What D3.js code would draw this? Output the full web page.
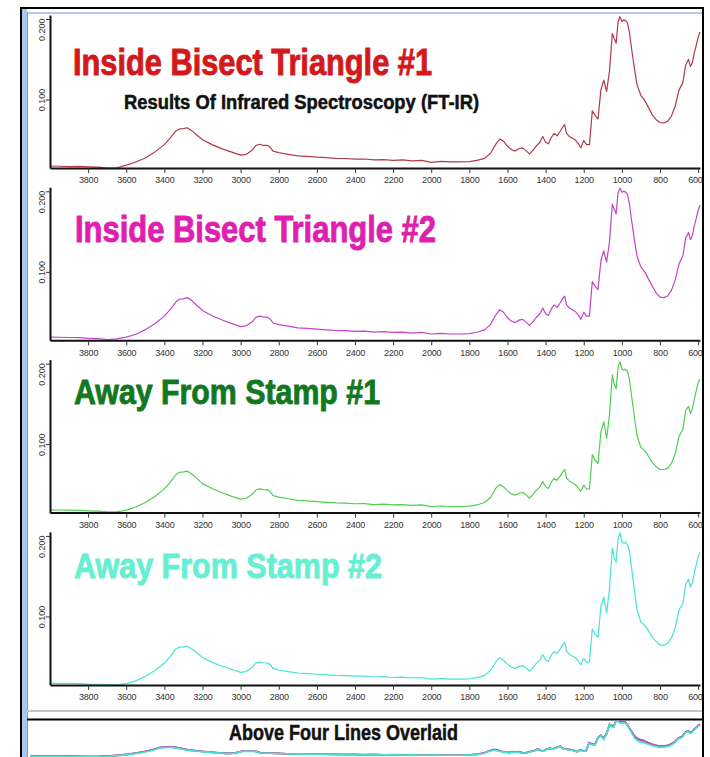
<!DOCTYPE html>
<html>
<head>
<meta charset="utf-8">
<script src="https://cdn.jsdelivr.net/npm/d3@7"></script>
<style>
  html, body { margin: 0; padding: 0; background: #fff; }
  svg { display: block; }
</style>
</head>
<body>
<svg id="chart" width="710" height="757"></svg>
<script>
// FT-IR absorbance spectra, wavenumber in cm-1 (high to low)
const wavenumbers = [
  4000, 3950, 3900, 3850, 3800, 3750, 3700, 3650, 3600, 3550,
  3500, 3450, 3400, 3370, 3340, 3320, 3300, 3280, 3260, 3230,
  3200, 3150, 3100, 3050, 3000, 2970, 2940, 2920, 2900, 2880,
  2860, 2845, 2830, 2800, 2750, 2700, 2650, 2600, 2550, 2500,
  2450, 2400, 2350, 2300, 2250, 2200, 2150, 2100, 2050, 2000,
  1950, 1900, 1850, 1800, 1760, 1720, 1690, 1660, 1640, 1620,
  1600, 1580, 1560, 1540, 1520, 1500, 1485, 1470, 1450, 1430,
  1415, 1400, 1385, 1370, 1355, 1340, 1325, 1310, 1300, 1290,
  1275, 1260, 1245, 1230, 1215, 1200, 1185, 1170, 1155, 1140,
  1125, 1110, 1095, 1080, 1065, 1050, 1040, 1030, 1020, 1010,
  1000, 990, 980, 970, 960, 950, 935, 920, 900, 880,
  860, 840, 820, 800, 780, 760, 740, 720, 700, 680,
  665, 650, 640, 630, 620, 610, 600, 590
];

const insideTriangle1 = [
  0.0175, 0.0172, 0.0168, 0.0170, 0.0165, 0.0160, 0.0150, 0.0152, 0.0185, 0.0225,
  0.0275, 0.0350, 0.0440, 0.0520, 0.0610, 0.0635, 0.0638, 0.0650, 0.0620, 0.0560,
  0.0500, 0.0440, 0.0390, 0.0350, 0.0310, 0.0320, 0.0370, 0.0430, 0.0445, 0.0430,
  0.0430, 0.0410, 0.0360, 0.0340, 0.0320, 0.0300, 0.0295, 0.0285, 0.0278, 0.0270,
  0.0268, 0.0260, 0.0262, 0.0250, 0.0255, 0.0245, 0.0250, 0.0238, 0.0245, 0.0220,
  0.0232, 0.0225, 0.0225, 0.0230, 0.0245, 0.0270, 0.0330, 0.0450, 0.0510, 0.0480,
  0.0420, 0.0380, 0.0360, 0.0390, 0.0400, 0.0360, 0.0325, 0.0360, 0.0420, 0.0470,
  0.0540, 0.0470, 0.0450, 0.0530, 0.0580, 0.0550, 0.0600, 0.0660, 0.0690, 0.0580,
  0.0540, 0.0520, 0.0500, 0.0460, 0.0400, 0.0490, 0.0440, 0.0440, 0.0860, 0.0800,
  0.0760, 0.1120, 0.1240, 0.1100, 0.1350, 0.1820, 0.1760, 0.1700, 0.1960, 0.2030,
  0.1970, 0.1990, 0.1980, 0.1950, 0.1830, 0.1650, 0.1400, 0.1180, 0.1050, 0.0990,
  0.0900, 0.0810, 0.0750, 0.0715, 0.0710, 0.0730, 0.0795, 0.0920, 0.1120, 0.1210,
  0.1430, 0.1500, 0.1410, 0.1460, 0.1580, 0.1670, 0.1770, 0.1840
];

const insideTriangle2 = [
  0.0190, 0.0188, 0.0185, 0.0182, 0.0175, 0.0170, 0.0160, 0.0168, 0.0190, 0.0225,
  0.0280, 0.0355, 0.0450, 0.0530, 0.0625, 0.0660, 0.0665, 0.0680, 0.0650, 0.0585,
  0.0520, 0.0455, 0.0405, 0.0360, 0.0320, 0.0330, 0.0380, 0.0435, 0.0450, 0.0440,
  0.0435, 0.0415, 0.0365, 0.0345, 0.0325, 0.0305, 0.0298, 0.0288, 0.0280, 0.0272,
  0.0270, 0.0262, 0.0265, 0.0252, 0.0258, 0.0248, 0.0252, 0.0240, 0.0248, 0.0228,
  0.0235, 0.0228, 0.0228, 0.0232, 0.0250, 0.0280, 0.0345, 0.0470, 0.0530, 0.0495,
  0.0430, 0.0390, 0.0370, 0.0400, 0.0410, 0.0370, 0.0335, 0.0370, 0.0430, 0.0480,
  0.0550, 0.0480, 0.0460, 0.0540, 0.0590, 0.0560, 0.0610, 0.0670, 0.0700, 0.0590,
  0.0550, 0.0530, 0.0510, 0.0470, 0.0410, 0.0500, 0.0450, 0.0450, 0.0880, 0.0820,
  0.0780, 0.1140, 0.1260, 0.1120, 0.1370, 0.1840, 0.1780, 0.1720, 0.1980, 0.2040,
  0.1990, 0.2000, 0.1990, 0.1960, 0.1840, 0.1660, 0.1410, 0.1190, 0.1060, 0.1000,
  0.0910, 0.0820, 0.0740, 0.0685, 0.0680, 0.0700, 0.0770, 0.0900, 0.1100, 0.1200,
  0.1420, 0.1490, 0.1400, 0.1450, 0.1570, 0.1660, 0.1760, 0.1830
];

const awayFromStamp1 = [
  0.0185, 0.0182, 0.0180, 0.0178, 0.0172, 0.0168, 0.0160, 0.0158, 0.0180, 0.0220,
  0.0275, 0.0350, 0.0445, 0.0525, 0.0620, 0.0650, 0.0655, 0.0665, 0.0635, 0.0575,
  0.0510, 0.0450, 0.0400, 0.0355, 0.0318, 0.0328, 0.0375, 0.0430, 0.0445, 0.0435,
  0.0432, 0.0412, 0.0362, 0.0342, 0.0322, 0.0302, 0.0296, 0.0286, 0.0278, 0.0270,
  0.0268, 0.0260, 0.0262, 0.0250, 0.0255, 0.0245, 0.0250, 0.0240, 0.0245, 0.0225,
  0.0232, 0.0226, 0.0226, 0.0230, 0.0245, 0.0275, 0.0335, 0.0455, 0.0500, 0.0470,
  0.0420, 0.0385, 0.0365, 0.0390, 0.0400, 0.0365, 0.0330, 0.0365, 0.0425, 0.0470,
  0.0535, 0.0470, 0.0450, 0.0530, 0.0575, 0.0550, 0.0600, 0.0655, 0.0685, 0.0580,
  0.0540, 0.0520, 0.0500, 0.0460, 0.0415, 0.0490, 0.0440, 0.0445, 0.0870, 0.0800,
  0.0760, 0.1150, 0.1280, 0.1070, 0.1360, 0.1860, 0.1740, 0.1690, 0.1950, 0.2025,
  0.1930, 0.1920, 0.1930, 0.1900, 0.1800, 0.1620, 0.1350, 0.1100, 0.0960, 0.0920,
  0.0850, 0.0770, 0.0720, 0.0685, 0.0685, 0.0700, 0.0760, 0.0880, 0.1100, 0.1180,
  0.1420, 0.1470, 0.1380, 0.1440, 0.1560, 0.1660, 0.1760, 0.1810
];

const awayFromStamp2 = [
  0.0172, 0.0170, 0.0168, 0.0165, 0.0160, 0.0158, 0.0155, 0.0152, 0.0165, 0.0200,
  0.0255, 0.0330, 0.0420, 0.0500, 0.0595, 0.0620, 0.0622, 0.0630, 0.0605, 0.0550,
  0.0490, 0.0430, 0.0385, 0.0345, 0.0305, 0.0315, 0.0365, 0.0420, 0.0435, 0.0425,
  0.0422, 0.0402, 0.0355, 0.0335, 0.0315, 0.0298, 0.0290, 0.0282, 0.0275, 0.0268,
  0.0265, 0.0258, 0.0260, 0.0248, 0.0252, 0.0242, 0.0246, 0.0236, 0.0242, 0.0222,
  0.0228, 0.0222, 0.0222, 0.0226, 0.0240, 0.0268, 0.0325, 0.0440, 0.0485, 0.0455,
  0.0405, 0.0372, 0.0355, 0.0380, 0.0390, 0.0355, 0.0320, 0.0355, 0.0415, 0.0460,
  0.0525, 0.0460, 0.0440, 0.0520, 0.0565, 0.0540, 0.0590, 0.0650, 0.0680, 0.0570,
  0.0530, 0.0510, 0.0490, 0.0450, 0.0400, 0.0480, 0.0430, 0.0435, 0.0845, 0.0780,
  0.0740, 0.1120, 0.1240, 0.1040, 0.1340, 0.1850, 0.1715, 0.1680, 0.1960, 0.2040,
  0.1930, 0.1910, 0.1920, 0.1890, 0.1810, 0.1620, 0.1340, 0.1080, 0.0930, 0.0890,
  0.0820, 0.0740, 0.0690, 0.0645, 0.0645, 0.0665, 0.0730, 0.0860, 0.1080, 0.1160,
  0.1400, 0.1465, 0.1365, 0.1420, 0.1540, 0.1640, 0.1740, 0.1790
];

const sampleNames = [
  "Inside Bisect Triangle #1",
  "Inside Bisect Triangle #2",
  "Away From Stamp #1",
  "Away From Stamp #2"
];
const sampleSeries = [insideTriangle1, insideTriangle2, awayFromStamp1, awayFromStamp2];
const subtitle = "Results Of Infrared Spectroscopy (FT-IR)";
const overlayTitle = "Above Four Lines Overlaid";
const xTickValues = [3800, 3600, 3400, 3200, 3000, 2800, 2600, 2400, 2200, 2000, 1800, 1600, 1400, 1200, 1000, 800, 600];
const yTickValues = [0.100, 0.200];

// ---- styling ----
const lineColors  = ["#b23a4c", "#c344c6", "#4fcf52", "#45e3d6"];
const titleColors = ["#d3191b", "#df1fae", "#12781f", "#66efd2"];
// title placement: [x, baseline, width, font-size]
const titleBoxes = [[73, 75, 359, 36], [75, 242, 361, 36], [74, 404, 306, 35], [74, 578, 308, 35]];

const W = 710, H = 757;
const svg = d3.select("#chart");
const titleFont = "'Liberation Sans', Arial, 'DejaVu Sans', sans-serif";
const tickFont = "'Liberation Sans Narrow', 'Liberation Sans', Arial, sans-serif";

svg.append("rect").attr("width", W).attr("height", H).attr("fill", "#fff");

// window frame
svg.append("rect").attr("x", 22).attr("y", 9).attr("width", 5).attr("height", H).attr("fill", "#aac6ec");
svg.append("rect").attr("x", 27).attr("y", 12).attr("width", 676).attr("height", 2).attr("fill", "#b3cbec");
svg.append("line").attr("x1", 27.5).attr("x2", 27.5).attr("y1", 12).attr("y2", H)
  .attr("stroke", "#9a9a9a").attr("stroke-width", 1);

const xScale = d3.scaleLinear().domain([4000, 590]).range([50, 700]);
const line = (y) => d3.line().x((d, i) => xScale(wavenumbers[i])).y(d => y(d));

sampleSeries.forEach((series, i) => {
  const top = 15 + i * 172.3;
  const bottom = top + 153;
  const yScale = d3.scaleLinear().domain([0.015, 0.205]).range([bottom, top]);
  const g = svg.append("g");

  const [tx, ty, tw, fs] = titleBoxes[i];
  g.append("text")
    .attr("x", tx).attr("y", ty)
    .attr("textLength", tw).attr("lengthAdjust", "spacingAndGlyphs")
    .attr("font-family", titleFont).attr("font-weight", "bold").attr("font-size", fs)
    .attr("fill", titleColors[i]).attr("stroke", titleColors[i]).attr("stroke-width", 0.9)
    .text(sampleNames[i]);

  if (i === 0) {
    g.append("text")
      .attr("x", 124).attr("y", 109)
      .attr("textLength", 355).attr("lengthAdjust", "spacingAndGlyphs")
      .attr("font-family", titleFont).attr("font-weight", "bold").attr("font-size", 19.5)
      .attr("fill", "#111").attr("stroke", "#111").attr("stroke-width", 0.5)
      .text(subtitle);
  }

  const clipId = "clip" + i;
  g.append("clipPath").attr("id", clipId)
    .append("rect").attr("x", 50).attr("y", top - 2).attr("width", 652).attr("height", bottom - top + 2);

  g.append("path")
    .datum(series)
    .attr("clip-path", `url(#${clipId})`)
    .attr("fill", "none")
    .attr("stroke", lineColors[i])
    .attr("stroke-width", 1.2)
    .attr("stroke-linejoin", "round")
    .attr("d", line(yScale));

  // x axis
  const xAxis = g.append("g")
    .attr("transform", `translate(0,${bottom})`)
    .call(d3.axisBottom(xScale).tickValues(xTickValues).tickFormat(d3.format("d"))
      .tickSize(5).tickSizeOuter(0).tickPadding(4));
  xAxis.select(".domain").attr("stroke", "#111").attr("stroke-width", 2);
  xAxis.selectAll(".tick line").attr("stroke", "#333");
  xAxis.selectAll(".tick text").attr("font-family", tickFont).attr("font-size", 9)
    .attr("fill", "#333").attr("letter-spacing", "-0.2");
  // keep the last label inside the frame
  xAxis.selectAll(".tick").filter(d => d === 600).select("text")
    .attr("text-anchor", "end").attr("x", 4);

  // y axis
  const yAxis = g.append("g")
    .attr("transform", "translate(50,0)")
    .call(d3.axisLeft(yScale).tickValues(yTickValues).tickFormat(d3.format(".3f"))
      .tickSize(4).tickSizeOuter(0));
  yAxis.select(".domain").attr("stroke", "#111").attr("stroke-width", 2);
  yAxis.selectAll(".tick line").attr("stroke", "#333");
  yAxis.selectAll("text")
    .attr("font-family", tickFont).attr("font-size", 9).attr("fill", "#333")
    .attr("transform", "rotate(-90)")
    .attr("dy", 0)
    .attr("y", -5)
    .attr("x", d => d >= 0.2 ? 1 : 0)
    .attr("text-anchor", d => d >= 0.2 ? "end" : "middle");
});

// overlay strip at the bottom
svg.append("rect").attr("x", 27).attr("y", 710).attr("width", 676).attr("height", 2).attr("fill", "#c4c4c4");
svg.append("line").attr("x1", 27).attr("x2", 704).attr("y1", 719.5).attr("y2", 719.5)
  .attr("stroke", "#000").attr("stroke-width", 2);

svg.append("text")
  .attr("x", 229).attr("y", 740)
  .attr("textLength", 229).attr("lengthAdjust", "spacingAndGlyphs")
  .attr("font-family", titleFont).attr("font-weight", "bold").attr("font-size", 22)
  .attr("fill", "#111").attr("stroke", "#111").attr("stroke-width", 0.5)
  .text(overlayTitle);

const xOverlay = d3.scaleLinear().domain([4000, 590]).range([30, 700]);
const yOverlay = d3.scaleLinear().domain([0.013, 0.206]).range([757, 720]);
svg.append("clipPath").attr("id", "clipOverlay")
  .append("rect").attr("x", 28).attr("y", 720.5).attr("width", 675).attr("height", 40);
const overlayOrder = [0, 2, 1, 3];
overlayOrder.forEach(k => {
  svg.append("path")
    .datum(sampleSeries[k])
    .attr("clip-path", "url(#clipOverlay)")
    .attr("fill", "none")
    .attr("stroke", lineColors[k])
    .attr("stroke-width", 1.6)
    .attr("d", d3.line().x((d, i) => xOverlay(wavenumbers[i])).y(d => yOverlay(d)));
});

// outer black border
svg.append("rect").attr("x", 21).attr("y", 8).attr("width", 682).attr("height", H + 10)
  .attr("fill", "none").attr("stroke", "#000").attr("stroke-width", 2);
</script>
</body>
</html>
